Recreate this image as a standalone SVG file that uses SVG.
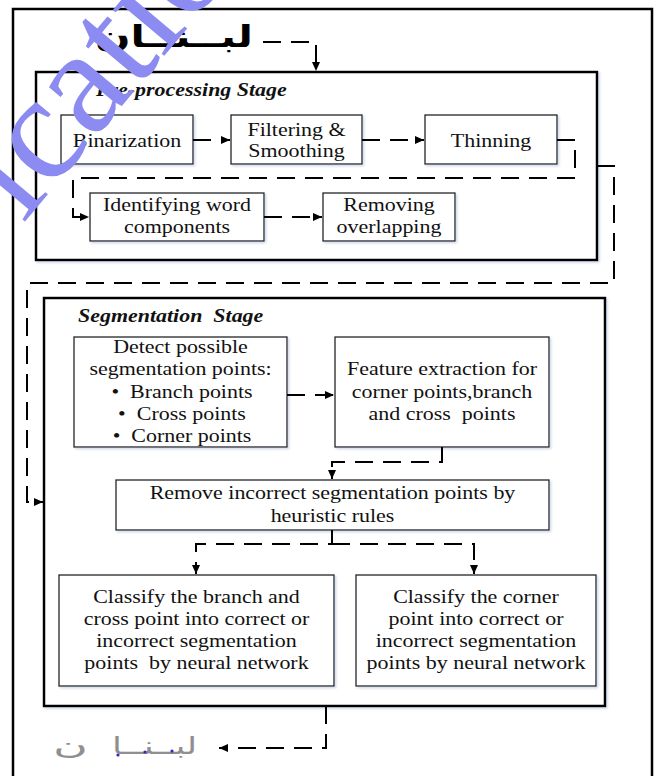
<svg xmlns="http://www.w3.org/2000/svg" width="656" height="776" viewBox="0 0 656 776">
<style>
.frame{fill:none;stroke:#000;stroke-width:2.5}
.stage{fill:#fff;stroke:#000;stroke-width:2.5;filter:url(#sh)}
.box{fill:#fff;stroke:#222;stroke-width:1.3;filter:url(#sh)}
.t{font-family:"Liberation Serif","Times New Roman",serif;font-size:18px;fill:#111;text-anchor:middle}
.title{font-family:"Liberation Serif","Times New Roman",serif;font-size:18px;font-weight:bold;font-style:italic;fill:#111}
.c{fill:none;stroke:#000;stroke-width:2;stroke-dasharray:18 10}
.ar{font-family:"DejaVu Sans","Noto Sans",sans-serif;fill:#000}
.arg{font-family:"DejaVu Sans","Noto Sans",sans-serif;fill:#8f8f8f}
.wm{font-family:"Liberation Serif","Times New Roman",serif;font-size:150px;fill:#8b8bf2}
</style>
<defs>
<filter id="sh" x="-5%" y="-5%" width="110%" height="115%">
<feDropShadow dx="1.5" dy="1.5" stdDeviation="1.2" flood-color="#8fa3c8" flood-opacity="0.45"/>
</filter>
<marker id="ah" markerUnits="userSpaceOnUse" markerWidth="9" markerHeight="8" refX="9" refY="4" orient="auto">
<path d="M0,0 L9,4 L0,8 z" fill="#000"/>
</marker>
</defs>
<rect x="0" y="0" width="656" height="776" fill="#fff"/>
<rect class="frame" x="13" y="9" width="639" height="772"/>

<g id="input-word">
<text class="ar" x="253" y="47" font-size="30" font-weight="bold" text-anchor="end" textLength="158" lengthAdjust="spacingAndGlyphs">لبــنــان</text>
</g>

<g id="preprocessing-stage">
<rect class="stage" x="36" y="72" width="561" height="188"/>
<text class="title" transform="translate(96 96) scale(1.22 1)">Pre-processing Stage</text>
</g>
<g id="binarization">
<rect class="box" x="61" y="115" width="132" height="49"/>
<text class="t" transform="translate(127 147) scale(1.22 1)">Binarization</text>
</g>
<g id="filtering">
<rect class="box" x="231" y="115" width="131" height="49"/>
<text class="t" transform="translate(296.5 136) scale(1.22 1)">Filtering &amp;</text>
<text class="t" transform="translate(296.5 157) scale(1.22 1)">Smoothing</text>
</g>
<g id="thinning">
<rect class="box" x="425" y="115" width="132" height="49"/>
<text class="t" transform="translate(491 147) scale(1.22 1)">Thinning</text>
</g>
<g id="identifying">
<rect class="box" x="90" y="193" width="174" height="48"/>
<text class="t" transform="translate(177 211) scale(1.22 1)">Identifying word</text>
<text class="t" transform="translate(177 233) scale(1.22 1)">components</text>
</g>
<g id="removing">
<rect class="box" x="323" y="193" width="132" height="48"/>
<text class="t" transform="translate(389 211) scale(1.22 1)">Removing</text>
<text class="t" transform="translate(389 233) scale(1.22 1)">overlapping</text>
</g>

<g id="segmentation-stage">
<rect class="stage" x="44" y="298" width="561" height="408"/>
<text class="title" transform="translate(78 322) scale(1.22 1)" xml:space="preserve">Segmentation  Stage</text>
</g>
<g id="detect">
<rect class="box" x="74" y="337" width="213" height="110"/>
<text class="t" transform="translate(180.5 353) scale(1.22 1)">Detect possible</text>
<text class="t" transform="translate(180.5 375) scale(1.22 1)">segmentation points:</text>
<text class="t" transform="translate(182 398) scale(1.22 1)" xml:space="preserve">•  Branch points</text>
<text class="t" transform="translate(182 420) scale(1.22 1)" xml:space="preserve">•  Cross points</text>
<text class="t" transform="translate(182 442) scale(1.22 1)" xml:space="preserve">•  Corner points</text>
</g>
<g id="feature">
<rect class="box" x="335" y="337" width="214" height="110"/>
<text class="t" transform="translate(442 375) scale(1.22 1)">Feature extraction for</text>
<text class="t" transform="translate(442 398) scale(1.22 1)">corner points,branch</text>
<text class="t" transform="translate(442 420) scale(1.22 1)" xml:space="preserve">and cross  points</text>
</g>
<g id="remove">
<rect class="box" x="116" y="480" width="433" height="50"/>
<text class="t" transform="translate(332.5 499) scale(1.22 1)">Remove incorrect segmentation points by</text>
<text class="t" transform="translate(332.5 522) scale(1.22 1)">heuristic rules</text>
</g>
<g id="classify-branch">
<rect class="box" x="59" y="575" width="275" height="111"/>
<text class="t" transform="translate(196.5 603) scale(1.22 1)">Classify the branch and</text>
<text class="t" transform="translate(196.5 625) scale(1.22 1)">cross point into correct or</text>
<text class="t" transform="translate(196.5 647) scale(1.22 1)">incorrect segmentation</text>
<text class="t" transform="translate(196.5 669) scale(1.22 1)" xml:space="preserve">points  by neural network</text>
</g>
<g id="classify-corner">
<rect class="box" x="356" y="575" width="240" height="111"/>
<text class="t" transform="translate(476 603) scale(1.22 1)">Classify the corner</text>
<text class="t" transform="translate(476 625) scale(1.22 1)">point into correct or</text>
<text class="t" transform="translate(476 647) scale(1.22 1)">incorrect segmentation</text>
<text class="t" transform="translate(476 669) scale(1.22 1)">points by neural network</text>
</g>

<g id="output-word">
<text class="arg" x="197" y="754" font-size="24" text-anchor="end" textLength="85" lengthAdjust="spacingAndGlyphs">لبــنــا</text>
<text class="arg" x="88" y="754" font-size="24" text-anchor="end" textLength="35" lengthAdjust="spacingAndGlyphs">ن</text>
<circle cx="118" cy="755" r="1.6" fill="#2a2ad0"/>
<circle cx="145" cy="752" r="1.6" fill="#2a2ad0"/>
<circle cx="172" cy="751" r="1.6" fill="#2a2ad0"/>
</g>

<g id="connectors">
<path class="c" d="M263,42 H316 V71" marker-end="url(#ah)"/>
<path class="c" d="M193,140 H230" marker-end="url(#ah)"/>
<path class="c" d="M362,140 H424" marker-end="url(#ah)"/>
<path class="c" d="M557,140 H575 V178 H73 V217 H89" marker-end="url(#ah)"/>
<path class="c" d="M264,217 H322" marker-end="url(#ah)"/>
<path class="c" d="M597,166 H614 V283 H27 V502 H43" marker-end="url(#ah)"/>
<path class="c" d="M287,395 H334" marker-end="url(#ah)"/>
<path class="c" d="M442,447 V462 H332 V479" marker-end="url(#ah)"/>
<path class="c" d="M332,530 V544 H196 V574" marker-end="url(#ah)"/>
<path class="c" d="M332,544 H474 V574" marker-end="url(#ah)"/>
<path class="c" d="M326,706 V748 H219" marker-end="url(#ah)"/>
</g>

<g id="watermark">
<text class="wm" transform="translate(23 224) rotate(-50)">ication</text>
</g>
</svg>
